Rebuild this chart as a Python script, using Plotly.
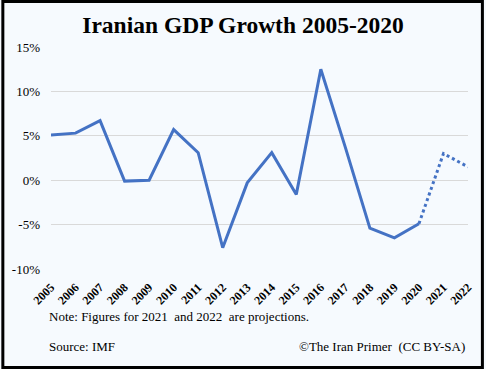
import plotly.graph_objects as go

years = [str(y) for y in range(2005, 2023)]
growth = [5.1, 5.3, 6.7, -0.1, 0.0, 5.7, 3.1, -7.6, -0.3, 3.1, -1.6, 12.5, 3.7, -5.4, -6.5, -4.9, 3.0, 1.5]
y_ticks = [15, 10, 5, 0, -5, -10]
y_labels = ["15%", "10%", "5%", "0%", "-5%", "-10%"]
n_actual = 16  # 2005-2020

LINE = "#4472C4"
BG = "#F6FAFE"
SERIF = "Liberation Serif"

fig = go.Figure()
fig.add_trace(go.Scatter(x=years[:n_actual], y=growth[:n_actual], mode="lines",
                         line=dict(color=LINE, width=3), hoverinfo="skip"))
fig.add_trace(go.Scatter(x=years[n_actual - 1:], y=growth[n_actual - 1:], mode="lines",
                         line=dict(color=LINE, width=3, dash="dot"), hoverinfo="skip"))

W, H = 486, 369
L, R, T, B = 50, 16, 47, 100
pw, ph = W - L - R, H - T - B

fig.update_layout(
    width=W, height=H,
    margin=dict(l=L, r=R, t=T, b=B),
    paper_bgcolor=BG, plot_bgcolor=BG,
    showlegend=False,
    font=dict(family=SERIF, color="black"),
    title=dict(text="<b>Iranian GDP Growth 2005-2020</b>", x=0.5, xanchor="center",
               y=1 - 25 / H, yanchor="middle", font=dict(size=23.5, family=SERIF, color="black")),
    xaxis=dict(type="category", categoryorder="array", categoryarray=years,
               tickangle=-45, tickfont=dict(size=12, family=SERIF, color="black"),
               ticklabelstandoff=8,
               showgrid=False, zeroline=False, showline=False, ticks="",
               tickvals=years, ticktext=[f"<b>{y}</b>" for y in years]),
    yaxis=dict(range=[-10, 15], tickvals=y_ticks, ticktext=y_labels,
               tickfont=dict(size=13, family=SERIF, color="black"),
               showgrid=True, gridcolor="#D9D9D9", gridwidth=1, zeroline=False,
               showline=False, ticks="", ticklabelstandoff=10),
)

fig.add_annotation(text="Note: Figures for 2021&nbsp; and 2022&nbsp; are projections.",
                   xref="paper", yref="paper", x=-4 / pw, y=-(316 - T - ph) / ph,
                   xanchor="left", yanchor="middle", showarrow=False,
                   font=dict(size=13, family=SERIF, color="black"))
fig.add_annotation(text="Source: IMF", xref="paper", yref="paper",
                   x=-4 / pw, y=-(346 - T - ph) / ph, xanchor="left", yanchor="middle",
                   showarrow=False, font=dict(size=13, family=SERIF, color="black"))
fig.add_annotation(text="©The Iran Primer&nbsp; (CC BY-SA)", xref="paper", yref="paper",
                   x=(469 - L) / pw, y=-(346 - T - ph) / ph, xanchor="right", yanchor="middle",
                   showarrow=False, font=dict(size=13, family=SERIF, color="black"))

# black frame around the whole picture
fig.add_shape(type="rect", xref="paper", yref="paper",
              x0=-(L - 1.5) / pw, x1=1 + (R - 1.5) / pw,
              y0=-(B - 1.5) / ph, y1=1 + (T - 1.5) / ph,
              line=dict(color="black", width=3), fillcolor="rgba(0,0,0,0)", layer="above")

fig.write_html("out.html", config={"displayModeBar": False},
               post_script="document.body.style.margin='0';document.body.style.overflow='hidden';")
